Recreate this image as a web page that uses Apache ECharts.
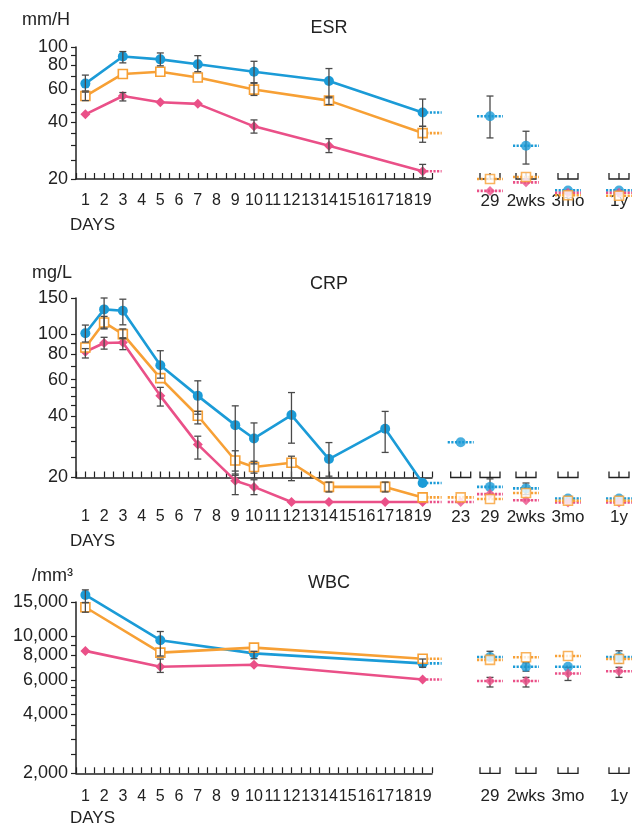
<!DOCTYPE html>
<html><head><meta charset="utf-8">
<script src="https://cdn.jsdelivr.net/npm/echarts@6/dist/echarts.min.js"></script>
<style>html,body{margin:0;padding:0;background:#fff}#c{width:634px;height:825px}</style>
</head><body><div id="c"></div>
<script>
// ================= DATA =================
const DAY_TICKS = [1,2,3,4,5,6,7,8,9,10,11,12,13,14,15,16,17,18,19];

// ---- ESR (mm/H) ----
const ESR_DAYS = [1,3,5,7,10,14,19];
const ESR_BLUE = [64,89,86,81,74,66,45];
const ESR_ORANGE = [55,72,74,69,59.5,52,35];
const ESR_PINK = [44,55,51,50,38,30,22];
const ESR_BLUE_LO = [58.5,82.4,79.5,74,64.3,53.8,38];
const ESR_BLUE_HI = [71,94.6,93,90,84,76.9,53];
const ESR_ORANGE_LO = [52,null,null,null,55.4,49.6,31.3];
const ESR_ORANGE_HI = [57.7,null,null,null,64.7,54.4,38];
const ESR_PINK_LO = [null,51.8,null,null,35,27.6,20.3];
const ESR_PINK_HI = [null,57.4,null,null,41.1,32.7,23.9];
const ESR_FU = ['29','2wks','3mo','1y'];
const ESR_FU_BLUE = [43,30,17.4,17.4];
const ESR_FU_ORANGE = [20,20.5,16.4,16.3];
const ESR_FU_PINK = [17.3,19.2,16.9,16.9];
const ESR_FU_BLUE_LO = [33,24,null,null];
const ESR_FU_BLUE_HI = [55,35.8,null,null];
const ESR_LABELS = [20,40,60,80,100];
const ESR_MINOR = [25,30,35,45,50,70,90];

// ---- CRP (mg/L) ----
const CRP_DAYS = [1,2,3,5,7,9,10,12,14,17,19];
const CRP_BLUE = [101,132,130,70.5,50,36,31,40.3,24.6,34.6,18.8];
const CRP_ORANGE = [86,114,100,61,40,24.2,22.5,23.6,18,18,16];
const CRP_PINK = [82,90.5,91,50,29,19.3,18,15.2,15.2,15.2,15.2];
const CRP_BLUE_LO = [91.5,107,111,61,40.7,20.8,23.3,29.4,20.3,26.5,null];
const CRP_BLUE_HI = [110.7,150,148,83,59.2,44.7,36.9,51.9,29.6,42,null];
const CRP_ORANGE_LO = [null,106,95,null,36.5,21.5,21,19.3,17,17,null];
const CRP_ORANGE_HI = [null,122,106,null,42,27,24,25.4,19,19,null];
const CRP_PINK_LO = [76.5,84.5,84,44.6,24.6,16.5,16.5,null,null,null,null];
const CRP_PINK_HI = [85,96.5,96,55,31.8,20.5,19.5,null,null,null,null];
const CRP_FU = ['23','29','2wks','3mo','1y'];
const CRP_FU_BLUE = [29.7,18,17.7,15.8,15.8];
const CRP_FU_ORANGE = [16,15.7,16.8,15.4,15.4];
const CRP_FU_PINK = [15.2,16.6,15.5,15.1,15.1];
const CRP_FU_BLUE_LO = [null,16.5,16.5,null,null];
const CRP_FU_BLUE_HI = [null,19.7,18.8,null,null];
const CRP_LABELS = [20,40,60,80,100,150];
const CRP_MINOR = [25,30,35,45,50,55,70,90];

// ---- WBC (/mm3) ----
const WBC_DAYS = [1,5,10,19];
const WBC_BLUE = [16300,9570,8200,7290];
const WBC_ORANGE = [14100,8270,8770,7700];
const WBC_PINK = [8440,7000,7165,6030];
const WBC_BLUE_LO = [14900,7950,7700,6960];
const WBC_BLUE_HI = [17300,10600,8400,7670];
const WBC_ORANGE_LO = [13300,null,null,null];
const WBC_ORANGE_HI = [14900,null,null,null];
const WBC_PINK_LO = [null,6550,null,null];
const WBC_PINK_HI = [null,7670,null,null];
const WBC_FU = ['29','2wks','3mo','1y'];
const WBC_FU_BLUE = [7850,7000,7000,7850];
const WBC_FU_ORANGE = [7590,7830,7950,7670];
const WBC_FU_PINK = [5920,5920,6470,6640];
const WBC_FU_BLUE_LO = [7600,6650,null,7300];
const WBC_FU_BLUE_HI = [8400,7350,null,8450];
const WBC_FU_PINK_LO = [5520,5520,5960,6180];
const WBC_FU_PINK_HI = [6180,6180,6960,6960];
const WBC_LABELS = [2000,4000,6000,8000,10000,15000];
const WBC_MINOR = [2500,3000,3500,4500,5000,5500,7000,9000];

// ================= LAYOUT / STYLE =================
const FONT = '"Liberation Sans", Arial, Helvetica, sans-serif';
const INK = '#222';
const ERR = '#4a4a4a';
const COLORS = {blue:'#1b9bd7', orange:'#f7a035', pink:'#ea5088'};
const MARK = {
  blue:{symbol:'circle', size:10, item:{color:'#1b9bd7'}},
  orange:{symbol:'rect', size:9, item:{color:'#ffffff', borderColor:'#f7a035', borderWidth:1.6}},
  pink:{symbol:'diamond', size:10, item:{color:'#ea5088'}}
};
const ORDER = ['blue','pink','orange'];
// follow-up slot positions on the right-hand broken axis (0..202 across its strip)
const FU_SLOT = {'23':28.7,'29':58,'2wks':94,'3mo':136,'1y':187};
const MAIN_LEFT = 76, MAIN_W = 356, FU_LEFT = 432, FU_W = 202;

const PANELS = [
  {name:'ESR', unit:'mm/H', top:47, height:132, yMin:20, yMax:100,
   labels:ESR_LABELS, minor:ESR_MINOR, labelMargin:14, days:ESR_DAYS, fu:ESR_FU,
   vals:{blue:ESR_BLUE, orange:ESR_ORANGE, pink:ESR_PINK},
   lo:{blue:ESR_BLUE_LO, orange:ESR_ORANGE_LO, pink:ESR_PINK_LO},
   hi:{blue:ESR_BLUE_HI, orange:ESR_ORANGE_HI, pink:ESR_PINK_HI},
   fuVals:{blue:ESR_FU_BLUE, orange:ESR_FU_ORANGE, pink:ESR_FU_PINK},
   fuLo:{blue:ESR_FU_BLUE_LO}, fuHi:{blue:ESR_FU_BLUE_HI},
   unitPos:[22,21], titlePos:[329,28], daysPos:[70,225]},
  {name:'CRP', unit:'mg/L', top:298, height:179.5, yMin:20, yMax:150,
   labels:CRP_LABELS, minor:CRP_MINOR, labelMargin:31, days:CRP_DAYS, fu:CRP_FU,
   vals:{blue:CRP_BLUE, orange:CRP_ORANGE, pink:CRP_PINK},
   lo:{blue:CRP_BLUE_LO, orange:CRP_ORANGE_LO, pink:CRP_PINK_LO},
   hi:{blue:CRP_BLUE_HI, orange:CRP_ORANGE_HI, pink:CRP_PINK_HI},
   fuVals:{blue:CRP_FU_BLUE, orange:CRP_FU_ORANGE, pink:CRP_FU_PINK},
   fuLo:{blue:CRP_FU_BLUE_LO}, fuHi:{blue:CRP_FU_BLUE_HI},
   unitPos:[32,274], titlePos:[329,284], daysPos:[70,541]},
  {name:'WBC', unit:'/mm³', top:602, height:171.3, yMin:2000, yMax:15000,
   labels:WBC_LABELS, minor:WBC_MINOR, labelMargin:15, days:WBC_DAYS, fu:WBC_FU,
   vals:{blue:WBC_BLUE, orange:WBC_ORANGE, pink:WBC_PINK},
   lo:{blue:WBC_BLUE_LO, orange:WBC_ORANGE_LO, pink:WBC_PINK_LO},
   hi:{blue:WBC_BLUE_HI, orange:WBC_ORANGE_HI, pink:WBC_PINK_HI},
   fuVals:{blue:WBC_FU_BLUE, orange:WBC_FU_ORANGE, pink:WBC_FU_PINK},
   fuLo:{blue:WBC_FU_BLUE_LO, pink:WBC_FU_PINK_LO}, fuHi:{blue:WBC_FU_BLUE_HI, pink:WBC_FU_PINK_HI},
   unitPos:[32,577], titlePos:[329,583], daysPos:[70,818]}
];

// ================= BUILD =================
const grid = [], xAxis = [], yAxis = [], series = [], graphic = [];

function errRender(params, api) {
  const x = api.value(0), lo = api.value(1), hi = api.value(2);
  const a = api.coord([x, lo]), b = api.coord([x, hi]);
  const w = 3.5, st = {stroke: ERR, lineWidth: 1.3};
  return {type:'group', children:[
    {type:'line', shape:{x1:a[0], y1:a[1], x2:b[0], y2:b[1]}, style:st},
    {type:'line', shape:{x1:a[0]-w, y1:a[1], x2:a[0]+w, y2:a[1]}, style:st},
    {type:'line', shape:{x1:b[0]-w, y1:b[1], x2:b[0]+w, y2:b[1]}, style:st}
  ]};
}
function dotted(color, left, right) {
  return function (params, api) {
    const p = api.coord([api.value(0), api.value(1)]);
    return {type:'line', shape:{x1:p[0]-left, y1:p[1], x2:p[0]+right, y2:p[1]},
      style:{stroke:color, lineWidth:2.6, lineDash:[2.2,1.4]}};
  };
}
function stubRender(params, api) {
  const p = api.coord([api.value(0), api.value(1)]);
  const hw = 10, h = 6;
  const st = {stroke: INK, lineWidth: 1.3, fill: null};
  return {type:'group', children:[
    {type:'polyline', shape:{points:[[p[0]-hw,p[1]-h],[p[0]-hw,p[1]],[p[0]+hw,p[1]],[p[0]+hw,p[1]-h]]}, style:st},
    {type:'line', shape:{x1:p[0], y1:p[1], x2:p[0], y2:p[1]-h}, style:st}
  ]};
}

PANELS.forEach((p, i) => {
  const gMain = 2*i, gFu = 2*i+1;
  grid.push({left:MAIN_LEFT, top:p.top, width:MAIN_W, height:p.height});
  grid.push({left:FU_LEFT, top:p.top, width:FU_W, height:p.height});
  const fmtY = v => v >= 1000 ? Number(v).toLocaleString('en-US') : String(v);
  xAxis.push({gridIndex:gMain, type:'value', min:0.5, max:19.5, interval:0.5,
    axisLine:{show:true, lineStyle:{color:INK, width:1.5}},
    axisTick:{show:true, inside:true, length:6, lineStyle:{color:INK, width:1.2}},
    axisLabel:{show:true, margin:p.labelMargin, fontSize:16, color:INK, fontFamily:FONT,
      showMinLabel:true, showMaxLabel:true,
      formatter: v => (Number.isInteger(v) && DAY_TICKS.indexOf(v) >= 0) ? String(v) : ''},
    splitLine:{show:false}});
  xAxis.push({gridIndex:gFu, type:'value', min:0, max:FU_W,
    axisLine:{show:false}, axisTick:{show:false}, splitLine:{show:false},
    axisLabel:{show:true, margin:p.labelMargin, fontSize:17, color:INK, fontFamily:FONT,
      customValues: p.fu.map(k => FU_SLOT[k]),
      formatter: v => { const k = p.fu.find(s => Math.abs(FU_SLOT[s]-v) < 0.01); return k || ''; }}});
  yAxis.push({gridIndex:gMain, type:'log', logBase:10, min:p.yMin, max:p.yMax,
    axisLine:{show:true, lineStyle:{color:INK, width:1.5}},
    axisTick:{show:true, inside:false, length:5, lineStyle:{color:INK, width:1.2},
      customValues: p.labels.concat(p.minor)},
    axisLabel:{show:true, margin:8, fontSize:18, color:INK, fontFamily:FONT,
      customValues: p.labels, formatter: fmtY},
    splitLine:{show:false}, minorTick:{show:false}});
  yAxis.push({gridIndex:gFu, type:'log', logBase:10, min:p.yMin, max:p.yMax, show:false,
    splitLine:{show:false}});

  // lines
  ORDER.forEach(c => {
    series.push({type:'line', xAxisIndex:gMain, yAxisIndex:gMain, clip:false,
      data: p.days.map((d, k) => [d, p.vals[c][k]]),
      symbol: MARK[c].symbol, symbolSize: MARK[c].size, showSymbol:true,
      itemStyle: MARK[c].item, lineStyle:{color:COLORS[c], width:2.6},
      z: 3, animation:false, silent:true});
  });
  // day-19 dotted tails
  ORDER.forEach(c => {
    const k = p.days.length - 1;
    series.push({type:'custom', xAxisIndex:gMain, yAxisIndex:gMain, clip:false,
      data:[[p.days[k], p.vals[c][k]]], renderItem: dotted(COLORS[c], 0, 19), z:2, animation:false, silent:true});
  });
  // error bars main
  const eMain = [];
  ORDER.forEach(c => p.days.forEach((d, k) => {
    if (p.lo[c][k] != null) eMain.push([d, p.lo[c][k], p.hi[c][k]]);
  }));
  series.push({type:'custom', xAxisIndex:gMain, yAxisIndex:gMain, clip:false,
    data:eMain, renderItem: errRender, z:4, animation:false, silent:true});

  // follow-up stubs
  series.push({type:'custom', xAxisIndex:gFu, yAxisIndex:gFu, clip:false,
    data: p.fu.map(k => [FU_SLOT[k], p.yMin]), renderItem: stubRender, z:2, animation:false, silent:true});
  // follow-up dotted segments + markers
  ORDER.forEach(c => {
    const pts = p.fu.map((k, j) => [FU_SLOT[k], p.fuVals[c][j]]);
    series.push({type:'custom', xAxisIndex:gFu, yAxisIndex:gFu, clip:false,
      data: pts, renderItem: dotted(COLORS[c], 13, 13), z:3, animation:false, silent:true});
  });
  const eFu = [];
  Object.keys(p.fuLo).forEach(c => p.fu.forEach((k, j) => {
    if (p.fuLo[c][j] != null) eFu.push([FU_SLOT[k], p.fuLo[c][j], p.fuHi[c][j]]);
  }));
  series.push({type:'custom', xAxisIndex:gFu, yAxisIndex:gFu, clip:false,
    data:eFu, renderItem: errRender, z:4, animation:false, silent:true});
  ORDER.forEach(c => {
    series.push({type:'scatter', xAxisIndex:gFu, yAxisIndex:gFu, clip:false,
      data: p.fu.map((k, j) => [FU_SLOT[k], p.fuVals[c][j]]),
      symbol: MARK[c].symbol, symbolSize: MARK[c].size, itemStyle: MARK[c].item,
      z:5, animation:false, silent:true});
  });

  // texts
  graphic.push({type:'text', left:p.unitPos[0], top:p.unitPos[1]-10,
    style:{text:p.unit, font:'18px ' + FONT, fill:INK}});
  graphic.push({type:'text', x:p.titlePos[0], y:p.titlePos[1],
    style:{text:p.name, font:'18px ' + FONT, fill:INK, textAlign:'center', textVerticalAlign:'middle'}});
  graphic.push({type:'text', x:p.daysPos[0], y:p.daysPos[1],
    style:{text:'DAYS', font:'17px ' + FONT, fill:INK, textAlign:'left', textVerticalAlign:'middle'}});
});

const chart = echarts.init(document.getElementById('c'), null, {renderer:'canvas'});
chart.setOption({backgroundColor:'#ffffff', animation:false, grid, xAxis, yAxis, series, graphic});
</script>
</body></html>
